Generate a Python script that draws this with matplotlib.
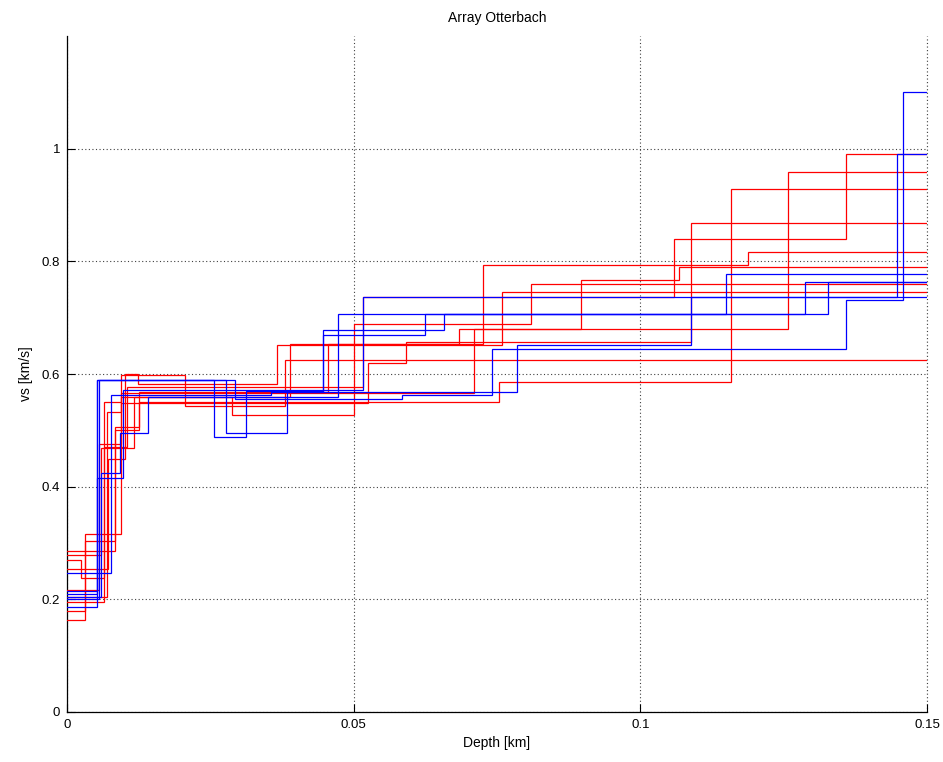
import matplotlib
matplotlib.use("Agg")
import matplotlib.pyplot as plt

plt.rcParams['font.family'] = ['Liberation Sans', 'DejaVu Sans']

title = "Array Otterbach"
xlabel = "Depth [km]"
ylabel = "vs [km/s]"
x_ticks = [0, 0.05, 0.1, 0.15]
x_tick_labels = ["0", "0.05", "0.1", "0.15"]
y_ticks = [0, 0.2, 0.4, 0.6, 0.8, 1.0]
y_tick_labels = ["0", "0.2", "0.4", "0.6", "0.8", "1"]
max_depth = 0.15

# Red profiles: layer bottom depths [km] and layer velocities [km/s]
red_R1_depth = [0.0025, 0.0065, 0.0105, 0.0517, 0.1058, 0.1358]
red_R1_vs = [0.27, 0.237, 0.47, 0.577, 0.736, 0.84, 0.99]
red_R2_depth = [0.0031, 0.0084, 0.0126, 0.0456, 0.0683, 0.1258]
red_R2_vs = [0.18, 0.304, 0.50, 0.568, 0.654, 0.68, 0.958]
red_R3_depth = [0.0084, 0.0126, 0.0754, 0.1158]
red_R3_vs = [0.286, 0.506, 0.551, 0.585, 0.928]
red_R4_depth = [0.0031, 0.0095, 0.0525, 0.0592, 0.1088]
red_R4_vs = [0.164, 0.316, 0.548, 0.619, 0.657, 0.868]
red_R5_depth = [0.0060, 0.0117, 0.0389, 0.0725, 0.1188]
red_R5_vs = [0.278, 0.468, 0.56, 0.654, 0.793, 0.817]
red_R6_depth = [0.0055, 0.0094, 0.0710, 0.0896, 0.1068]
red_R6_vs = [0.217, 0.476, 0.567, 0.679, 0.766, 0.79]
red_R7_depth = [0.0070, 0.0095, 0.0287, 0.0500, 0.0810]
red_R7_vs = [0.205, 0.532, 0.559, 0.527, 0.689, 0.760]
red_R8_depth = [0.0072, 0.0102, 0.0124, 0.0366, 0.0759]
red_R8_vs = [0.253, 0.45, 0.60, 0.583, 0.651, 0.745]
red_R9_depth = [0.0065, 0.0094, 0.0206, 0.0380]
red_R9_vs = [0.195, 0.55, 0.598, 0.544, 0.624]

# Blue profiles
blue_B1_depth = [0.0052, 0.0098, 0.0517, 0.1448]
blue_B1_vs = [0.215, 0.416, 0.571, 0.737, 0.99]
blue_B2_depth = [0.0052, 0.0293, 0.0584, 0.0741, 0.1358, 0.1458]
blue_B2_vs = [0.21, 0.589, 0.556, 0.562, 0.644, 0.732, 1.10]
blue_B3_depth = [0.0076, 0.0355, 0.0785, 0.1088]
blue_B3_vs = [0.246, 0.562, 0.568, 0.652, 0.737]
blue_B4_depth = [0.0052, 0.0256, 0.0312, 0.0447, 0.0624, 0.1287]
blue_B4_vs = [0.187, 0.589, 0.488, 0.569, 0.67, 0.706, 0.764]
blue_B5_depth = [0.0055, 0.0277, 0.0383, 0.0447, 0.0657, 0.1328]
blue_B5_vs = [0.20, 0.589, 0.495, 0.568, 0.678, 0.706, 0.764]
blue_B6_depth = [0.0060, 0.0093, 0.0142, 0.0473, 0.1149]
blue_B6_vs = [0.205, 0.424, 0.495, 0.559, 0.706, 0.777]

red_profiles = [
    (red_R1_depth, red_R1_vs), (red_R2_depth, red_R2_vs), (red_R3_depth, red_R3_vs),
    (red_R4_depth, red_R4_vs), (red_R5_depth, red_R5_vs), (red_R6_depth, red_R6_vs),
    (red_R7_depth, red_R7_vs), (red_R8_depth, red_R8_vs), (red_R9_depth, red_R9_vs),
]
blue_profiles = [
    (blue_B1_depth, blue_B1_vs), (blue_B2_depth, blue_B2_vs), (blue_B3_depth, blue_B3_vs),
    (blue_B4_depth, blue_B4_vs), (blue_B5_depth, blue_B5_vs), (blue_B6_depth, blue_B6_vs),
]

fig = plt.figure(figsize=(9.43, 7.62), dpi=100)
ax = fig.add_axes([67 / 943, 1 - 712 / 762, (927 - 67) / 943, (712 - 36) / 762])


def draw(profiles, color):
    for depths, vs in profiles:
        x = [0.0] + list(depths) + [max_depth]
        y = list(vs) + [vs[-1]]
        ax.step(x, y, where='post', color=color, lw=0.9, solid_joinstyle='miter', zorder=3)


draw(red_profiles, '#ff0000')
draw(blue_profiles, '#0000ff')

ax.set_xlim(0, max_depth)
ax.set_ylim(0, 1.2)
ax.set_xticks(x_ticks)
ax.set_xticklabels(x_tick_labels)
ax.set_yticks(y_ticks)
ax.set_yticklabels(y_tick_labels)
ax.tick_params(direction='in', length=6, width=0.8, labelsize=9.5, pad=5)
grid_style = dict(linestyle=(0, (1, 2.2)), color='#404040', linewidth=0.8)
ax.grid(True, **grid_style)
ax.axvline(max_depth, clip_on=False, zorder=1, **grid_style)
for s in ['top', 'right']:
    ax.spines[s].set_visible(False)
for s in ['left', 'bottom']:
    ax.spines[s].set_linewidth(0.9)
ax.set_title(title, fontsize=10, pad=10)
ax.set_xlabel(xlabel, fontsize=10, labelpad=4)
ax.set_ylabel(ylabel, fontsize=10, labelpad=6)

fig.savefig("out.png", dpi=100)
